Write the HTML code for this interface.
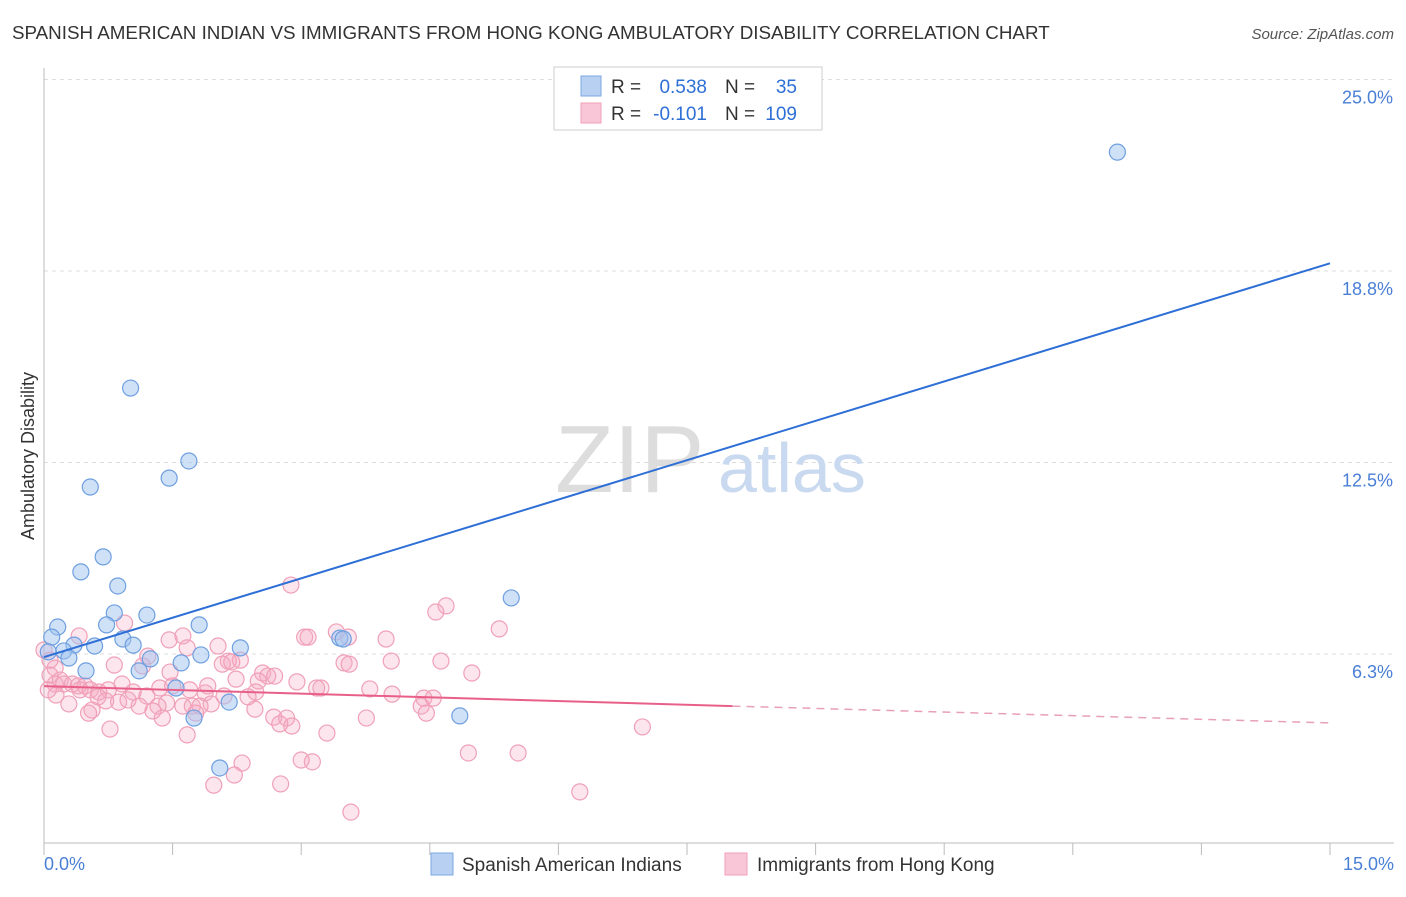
<!DOCTYPE html>
<html><head><meta charset="utf-8"><style>
body{margin:0;background:#fff;font-family:"Liberation Sans",sans-serif}
svg text{font-family:"Liberation Sans",sans-serif}
</style></head><body>
<svg id="c" width="1406" height="892">
<text x="12" y="39" font-size="18.8" fill="#333">SPANISH AMERICAN INDIAN VS IMMIGRANTS FROM HONG KONG AMBULATORY DISABILITY CORRELATION CHART</text>
<text x="1394" y="39" font-size="15" fill="#555" font-style="italic" text-anchor="end">Source: ZipAtlas.com</text>
<g id="grid"></g>
<text x="555" y="492" font-size="96" fill="#ddd" font-family="Liberation Serif">ZIP</text>
<text x="718" y="492" font-size="70" fill="#c9d9ef">atlas</text>
<g id="axes"></g>
<g id="pts"></g>
<g id="lines"></g>
<text transform="translate(34,456) rotate(-90)" font-size="18" fill="#333" text-anchor="middle">Ambulatory Disability</text>
<text x="44" y="870" font-size="18" fill="#4a7fd6">0.0%</text>
<text x="1394" y="870" font-size="18" fill="#4a7fd6" text-anchor="end">15.0%</text>
<g>
<rect x="554" y="67" width="268" height="63" fill="#fff" stroke="#ccc"/>
<rect x="581" y="76" width="20" height="20" fill="#b8d1f3" stroke="#7ba7e0"/>
<rect x="581" y="103" width="20" height="20" fill="#f8c6d6" stroke="#f0a0b8"/>
<text x="611" y="93" font-size="19" fill="#333">R =</text>
<text x="707" y="93" font-size="19" fill="#2e6fd6" text-anchor="end">0.538</text>
<text x="725" y="93" font-size="19" fill="#333">N =</text>
<text x="797" y="93" font-size="19" fill="#2e6fd6" text-anchor="end">35</text>
<text x="611" y="120" font-size="19" fill="#333">R =</text>
<text x="707" y="120" font-size="19" fill="#2e6fd6" text-anchor="end">-0.101</text>
<text x="725" y="120" font-size="19" fill="#333">N =</text>
<text x="797" y="120" font-size="19" fill="#2e6fd6" text-anchor="end">109</text>
</g>
<g>
<rect x="431" y="853" width="22" height="22" fill="#b8d1f3" stroke="#7ba7e0"/>
<text x="462" y="871" font-size="19" fill="#333">Spanish American Indians</text>
<rect x="725" y="853" width="22" height="22" fill="#f8c6d6" stroke="#f0a0b8"/>
<text x="757" y="871" font-size="19" fill="#333">Immigrants from Hong Kong</text>
</g>
</svg>
<script>
const yTicks=[25.0,18.75,12.5,6.25];
const yTickLabels=["25.0%","18.8%","12.5%","6.3%"];
const bluePx=[[1117,152],[131,388],[90,487],[189,461],[169,478],[103,557],[81,572],[118,586],[511,598],[114,613],[147,615],[58,627],[107,625],[199,625],[52,637],[123,639],[133,645],[74,645],[95,646],[64,651],[240,648],[340,638],[343,639],[48,652],[69,658],[150,659],[201,655],[181,663],[139,671],[86,671],[176,688],[229,702],[460,716],[194,718],[220,768]];
const pinkPx=[[291,585],[446,606],[436,612],[499,629],[125,623],[79,636],[305,637],[308,637],[348,637],[386,639],[336,632],[183,636],[169,640],[218,646],[187,648],[148,656],[240,660],[228,661],[222,664],[232,662],[391,661],[441,661],[344,663],[349,664],[114,665],[143,666],[472,673],[263,673],[268,676],[275,676],[258,681],[297,682],[236,679],[55,668],[50,675],[60,680],[55,684],[64,684],[72,684],[78,686],[85,686],[90,690],[99,692],[108,690],[122,684],[133,692],[147,696],[160,688],[173,686],[190,690],[208,686],[205,693],[256,692],[248,697],[224,696],[211,704],[183,706],[192,706],[200,706],[167,703],[158,706],[153,711],[139,706],[119,702],[106,701],[98,697],[69,704],[92,710],[89,713],[162,718],[196,713],[187,735],[110,729],[255,709],[274,717],[287,718],[292,726],[280,724],[327,733],[366,718],[321,688],[317,688],[392,694],[424,698],[433,698],[421,706],[426,713],[370,689],[642,727],[468,753],[518,753],[242,763],[234,775],[301,760],[312,762],[214,785],[281,784],[351,812],[580,792],[44,650],[50,660],[56,695],[48,690],[80,690],[128,700],[170,672]];
const toX=p=>(p-44)/1286*15, toY=p=>(845.5-p)/191.5*6.25;
const blueX=bluePx.map(p=>+toX(p[0]).toFixed(2)), blueY=bluePx.map(p=>+toY(p[1]).toFixed(2));
const pinkX=pinkPx.map(p=>+toX(p[0]).toFixed(2)), pinkY=pinkPx.map(p=>+toY(p[1]).toFixed(2));
const blueTrend=[[0,6.15],[15,19.0]];
const pinkTrend=[[0,5.2],[8.03,4.55],[15,4.0]];
const X=v=>44+v/15*1286, Y=v=>845.5-v/6.25*191.5;
const NS="http://www.w3.org/2000/svg";
function mk(t,a,p){const e=document.createElementNS(NS,t);for(const k in a)e.setAttribute(k,a[k]);document.getElementById(p).appendChild(e);return e;}
yTicks.forEach((t,i)=>{
 const l=mk('line',{x1:44,x2:1394,y1:Y(t),y2:Y(t),stroke:'#ddd','stroke-dasharray':'4,4'},'grid');
 
 
 const tx=mk('text',{x:1393,y:Y(t)+24,'font-size':18,fill:'#4a7fd6','text-anchor':'end'},'grid');
 tx.textContent=yTickLabels[i];
 
 
});
mk('line',{x1:44,x2:44,y1:68,y2:843,stroke:'#bbb'},'axes');
mk('line',{x1:44,x2:1394,y1:843,y2:843,stroke:'#bbb'},'axes');
for(let i=0;i<=10;i++){mk('line',{x1:X(i*1.5),x2:X(i*1.5),y1:843,y2:855,stroke:'#bbb'},'axes');}
pinkX.forEach((v,i)=>{const c=mk('circle',{cx:X(v),cy:Y(pinkY[i]),r:8,fill:'rgba(245,170,195,0.3)',stroke:'#f0a0b8','stroke-width':1.2},'pts');
 
 });
blueX.forEach((v,i)=>{const c=mk('circle',{cx:X(v),cy:Y(blueY[i]),r:8,fill:'rgba(160,196,240,0.5)',stroke:'#6f9fe0','stroke-width':1.2},'pts');
 
 });
let b=mk('line',{x1:X(blueTrend[0][0]),y1:Y(blueTrend[0][1]),x2:X(blueTrend[1][0]),y2:Y(blueTrend[1][1]),stroke:'#2e6fd6','stroke-width':2},'lines');


let p1=mk('line',{x1:X(pinkTrend[0][0]),y1:Y(pinkTrend[0][1]),x2:X(pinkTrend[1][0]),y2:Y(pinkTrend[1][1]),stroke:'#e8608a','stroke-width':2},'lines');


let p2=mk('line',{x1:X(pinkTrend[1][0]),y1:Y(pinkTrend[1][1]),x2:X(pinkTrend[2][0]),y2:Y(pinkTrend[2][1]),stroke:'#e8a0b8','stroke-width':1.5,'stroke-dasharray':'8,6'},'lines');


</script>
</body></html>
